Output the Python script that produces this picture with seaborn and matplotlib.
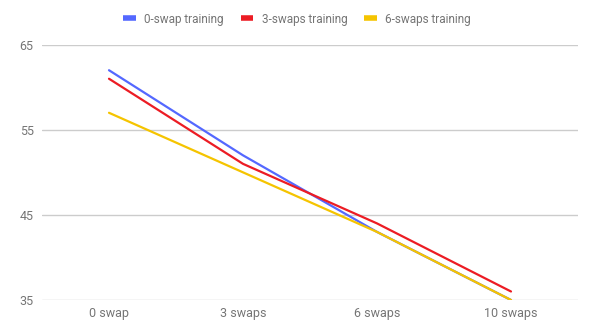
import pandas as pd
import seaborn as sns
import matplotlib.pyplot as plt

categories = ['0 swap', '3 swaps', '6 swaps', '10 swaps']
series_names = ['0-swap training', '3-swaps training', '6-swaps training']
swap0 = [62, 52, 43, 35]
swap3 = [61, 51, 44, 36]
swap6 = [57, 50, 43, 35]
colors = ['#5468ff', '#ec1c24', '#f5c400']

rows = []
for name, vals in zip(series_names, [swap0, swap3, swap6]):
    for cat, v in zip(categories, vals):
        rows.append({'Swaps': cat, 'Accuracy': v, 'Training': name})
df = pd.DataFrame(rows)

sns.set_style('white')
plt.rcParams['font.family'] = ['Roboto', 'DejaVu Sans']

fig = plt.figure(figsize=(5.93, 3.28), dpi=100)
ax = fig.add_axes([42 / 593, 28 / 328, 536 / 593, 255.3 / 328])

sns.lineplot(
    data=df,
    x='Swaps',
    y='Accuracy',
    hue='Training',
    palette=colors,
    linewidth=1.6,
    ax=ax,
    legend=False,
)

ax.set_xlim(-0.5, 3.5)
ax.set_ylim(35, 65)
ax.set_yticks([35, 45, 55, 65])
ax.set_xlabel('')
ax.set_ylabel('')
for s in ax.spines.values():
    s.set_visible(False)
ax.set_axisbelow(True)
ax.yaxis.grid(True, color='#cccccc', linewidth=1)
ax.xaxis.grid(False)
ax.tick_params(axis='both', length=0, labelsize=9, labelcolor='#757575')
ax.tick_params(axis='y', pad=6)
ax.tick_params(axis='x', pad=5)

handles = [plt.Line2D([], [], color=c, linewidth=4, solid_capstyle='butt') for c in colors]
fig.legend(
    handles, series_names,
    loc='center', bbox_to_anchor=(297 / 593, 1 - 19 / 328),
    ncol=3, frameon=False, fontsize=8.5,
    handlelength=1.1, handletextpad=0.7, columnspacing=1.4,
    labelcolor='#757575',
)

plt.savefig('out.png', dpi=100)
